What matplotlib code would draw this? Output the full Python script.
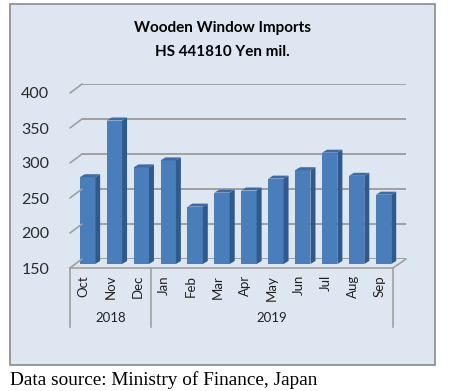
import matplotlib.pyplot as plt
from matplotlib.patches import Rectangle, Polygon, ConnectionPatch

months = ['Oct', 'Nov', 'Dec', 'Jan', 'Feb', 'Mar', 'Apr', 'May', 'Jun', 'Jul', 'Aug', 'Sep']
values = [274, 355, 288, 298, 232, 252, 255, 272, 284, 309, 276, 249]
years = ['2018', '2019']
year_spans = [(0, 3), (3, 12)]
yticks = [150, 200, 250, 300, 350, 400]

W, H = 455, 391
fig = plt.figure(figsize=(W / 100, H / 100), dpi=100)


def box(left, top, right, bottom):
    return [left / W, 1 - bottom / H, (right - left) / W, (bottom - top) / H]


# chart area
fig.add_artist(Rectangle((10 / W, 1 - 365 / H), 425 / W, 361 / H, transform=fig.transFigure,
                         facecolor='#dde6f1', edgecolor='#8a8a8a', linewidth=1.2, zorder=-10))

n = len(months)
grid_col = '#a0a0a0'

# back wall with gridlines
back = fig.add_axes(box(82, 84, 406, 259))
back.set_xlim(-0.5, n - 0.5)
back.set_ylim(150, 400)
back.patch.set_visible(False)
for v in yticks:
    back.axhline(v, color=grid_col, linewidth=1.4)
back.axis('off')

# front axis (labels, floor edge)
front = fig.add_axes(box(70, 93, 393, 268))
front.set_xlim(-0.5, n - 0.5)
front.set_ylim(150, 400)
front.patch.set_visible(False)
for s in ['top', 'right', 'left']:
    front.spines[s].set_visible(False)
front.spines['bottom'].set_color(grid_col)
front.spines['bottom'].set_linewidth(1.2)
front.set_yticks(yticks)
front.set_yticklabels([str(v) for v in yticks], fontsize=11.5, family='Lato', color='#2a2a2a')
front.tick_params(axis='y', length=0, pad=15)
front.set_xticks(range(n))
front.set_xticklabels(months, rotation=90, fontsize=9.5, family='Lato', color='#222222', va='top')
front.tick_params(axis='x', length=0, pad=5)

# left wall diagonals and floor right edge
for v in yticks:
    fig.add_artist(ConnectionPatch(xyA=(0, v), coordsA=front.get_yaxis_transform(),
                                   xyB=(0, v), coordsB=back.get_yaxis_transform(),
                                   color=grid_col, linewidth=1.2))
fig.add_artist(ConnectionPatch(xyA=(1, 150), coordsA=front.get_yaxis_transform(),
                               xyB=(1, 150), coordsB=back.get_yaxis_transform(),
                               color=grid_col, linewidth=1.2))

# year group separators and labels
sep_depth = (327 - 268) / 175
for x in [-0.5, 2.5, n - 0.5]:
    front.plot([x, x], [0, -sep_depth], transform=front.get_xaxis_transform(),
               color=grid_col, linewidth=1.2, clip_on=False)
for yr, (a, b) in zip(years, year_spans):
    front.text((a + b - 1) / 2, -(318 - 268) / 175, yr, transform=front.get_xaxis_transform(),
               ha='center', va='center', fontsize=9.5, family='Lato', color='#222222')

# bars at mid depth
bars = fig.add_axes(box(74, 89, 397, 264))
bars.set_xlim(-0.5, n - 0.5)
bars.set_ylim(150, 400)
bars.patch.set_visible(False)
bars.axis('off')
bw = 0.57
dx = 5 / (323 / n)
dy = 3 / (175 / 250)
x = list(range(n))
bars.bar(x, [v - 150 for v in values], bottom=150, width=bw, color='#4a7ebb', zorder=3)
for xi, v in zip(x, values):
    r = xi + bw / 2
    l = xi - bw / 2
    bars.add_patch(Polygon([(r, 150), (r + dx, 150 + dy), (r + dx, v + dy), (r, v)],
                           closed=True, facecolor='#2f5a8e', edgecolor='none', zorder=3, clip_on=False))
    bars.add_patch(Polygon([(l, v), (r, v), (r + dx, v + dy), (l + dx, v + dy)],
                           closed=True, facecolor='#3d6ba6', edgecolor='none', zorder=3, clip_on=False))

# title
fig.text(222 / W, 1 - 28 / H, 'Wooden Window Imports', ha='center', va='center',
         fontsize=11, fontweight='bold', family='Lato')
fig.text(222 / W, 1 - 52 / H, 'HS 441810 Yen mil.', ha='center', va='center',
         fontsize=11, fontweight='bold', family='Lato')

fig.text(10 / W, 1 - 380 / H, 'Data source: Ministry of Finance, Japan', ha='left', va='center',
         fontsize=13.9, family='Liberation Serif')

fig.savefig('out.png', dpi=100)
